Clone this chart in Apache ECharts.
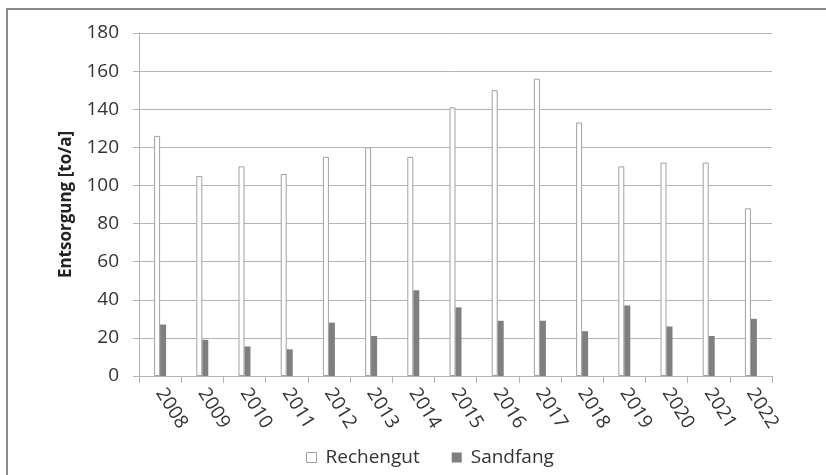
<!DOCTYPE html>
<html>
<head>
<meta charset="utf-8">
<script src="https://cdn.jsdelivr.net/npm/echarts@6/dist/echarts.min.js"></script>
<style>
  html, body { margin: 0; padding: 0; background: #fff; }
  #chart { width: 826px; height: 475px; }
</style>
</head>
<body>
<div id="chart"></div>
<script>
// Jahre (Kategorien)
const years = ['2008', '2009', '2010', '2011', '2012', '2013', '2014', '2015',
               '2016', '2017', '2018', '2019', '2020', '2021', '2022'];
// Entsorgung Rechengut [to/a]
const rechengut = [126, 105, 110, 106, 115, 120, 115, 141, 150, 156, 133, 110, 112, 112, 88];
// Entsorgung Sandfang [to/a]
const sandfang = [27, 19, 15.5, 14, 28, 21, 45, 36, 29, 29, 23.5, 37, 26, 21, 30];
// Achsenbeschriftung
const yTicks = [0, 20, 40, 60, 80, 100, 120, 140, 160, 180];

const FONT = 'Open Sans';
const TXT = '#333333';
const GRID = '#b4b4b4';

const chart = echarts.init(document.getElementById('chart'), null, { renderer: 'canvas' });
chart.setOption({
  animation: false,
  backgroundColor: '#ffffff',
  graphic: [{
    type: 'rect',
    shape: { x: 7, y: 9, width: 840, height: 500 },
    style: { fill: 'none', stroke: '#8a8a8a', lineWidth: 2 },
    silent: true
  }],
  grid: { left: 139, right: 54, top: 33, bottom: 99, containLabel: false },
  legend: {
    bottom: 3,
    left: 301,
    itemGap: 32,
    itemWidth: 10,
    itemHeight: 10,
    textStyle: { fontFamily: FONT, fontSize: 19, color: TXT, padding: [0, 0, 0, 4] },
    data: [
      { name: 'Rechengut', icon: 'rect', itemStyle: { color: '#ffffff', borderColor: '#a0a0a0', borderWidth: 1 } },
      { name: 'Sandfang', icon: 'rect', itemStyle: { color: '#7f7f7f' } }
    ]
  },
  xAxis: {
    type: 'category',
    data: years,
    axisLine: { lineStyle: { color: GRID, width: 1 } },
    axisTick: { show: true, length: 7, lineStyle: { color: GRID } },
    axisLabel: {
      rotate: -58,
      margin: 14,
      fontFamily: FONT,
      fontSize: 19,
      color: TXT
    },
    splitLine: { show: false }
  },
  yAxis: {
    type: 'value',
    min: yTicks[0],
    max: yTicks[yTicks.length - 1],
    interval: yTicks[1] - yTicks[0],
    name: 'Entsorgung [to/a]',
    nameLocation: 'middle',
    nameGap: 64,
    nameRotate: 90,
    nameTextStyle: { fontFamily: FONT, fontSize: 17, fontWeight: 'bold', color: '#222222' },
    axisLine: { show: true, lineStyle: { color: GRID, width: 1 } },
    axisTick: { show: true, length: 6, lineStyle: { color: GRID } },
    axisLabel: { fontFamily: FONT, fontSize: 19, color: TXT, margin: 20 },
    splitLine: { show: true, lineStyle: { color: GRID, width: 1 } }
  },
  series: [
    {
      name: 'Rechengut',
      type: 'bar',
      data: rechengut,
      barWidth: 6,
      barGap: '0%',
      itemStyle: { color: '#ffffff', borderColor: '#a0a0a0', borderWidth: 1 }
    },
    {
      name: 'Sandfang',
      type: 'bar',
      data: sandfang,
      barWidth: 6,
      barGap: '0%',
      itemStyle: { color: '#7f7f7f' }
    }
  ]
});
</script>
</body>
</html>
